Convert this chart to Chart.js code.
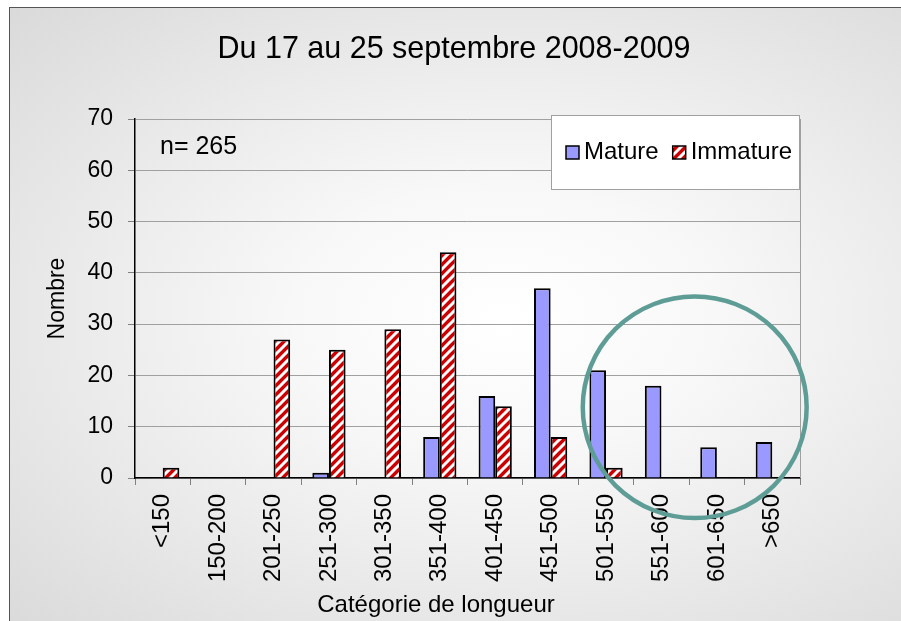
<!DOCTYPE html>
<html lang="fr">
<head>
<meta charset="utf-8">
<script src="https://cdn.jsdelivr.net/npm/chart.js@4.4.0/dist/chart.umd.min.js"></script>
<style>
  html, body { margin: 0; padding: 0; background: #fff; }
  #cadre {
    position: absolute; left: 9px; top: 7px; width: 900px; height: 620px;
    border-left: 1px solid #555; border-top: 1px solid #555;
    background: radial-gradient(ellipse farthest-corner at 55% 50%, #ffffff 0%, #f8f8f8 30%, #dadada 100%);
  }
  #graphique { position: absolute; left: 0; top: 0; }
</style>
</head>
<body>
<div id="cadre"></div>
<canvas id="graphique" width="901" height="621"></canvas>
<script>
// Données
const categories = ["<150", "150-200", "201-250", "251-300", "301-350", "351-400",
                    "401-450", "451-500", "501-550", "551-600", "601-650", ">650"];
const mature   = [0, 0, 0, 1, 0, 8, 16, 37, 21, 18, 6, 7];
const immature = [2, 0, 27, 25, 29, 44, 14, 8, 2, 0, 0, 0];
const graduationsY = [0, 10, 20, 30, 40, 50, 60, 70];
const titre = "Du 17 au 25 septembre 2008-2009";
const effectif = "n= 265";
// cercle autour des grandes tailles (en unités des axes)
const cercleCentre = [9.6, 13.8];
const cercleRayon = [2.02, 21.6];

const police = '"Liberation Sans", Arial, sans-serif';
Chart.defaults.font.family = police;
Chart.defaults.color = '#000';

// motif rouge hachuré blanc
function motifHachure(ctx) {
    let c = document.createElement('canvas');
    c.width = 9; c.height = 9;
    let g = c.getContext('2d');
    g.fillStyle = '#CC0000';
    g.fillRect(0, 0, 9, 9);
    g.strokeStyle = '#ffffff';
    g.lineWidth = 3;
    g.beginPath();
    g.moveTo(-2, 11); g.lineTo(11, -2);
    g.moveTo(-2, 2); g.lineTo(2, -2);
    g.moveTo(7, 11); g.lineTo(11, 7);
    g.stroke();
    return ctx.createPattern(c, 'repeat');
}

const canvas = document.getElementById('graphique');
const hachure = motifHachure(canvas.getContext('2d'));

const habillage = {
    id: 'habillage',
    afterDatasetsDraw(chart) {
        const { ctx, chartArea: a, scales: { x, y } } = chart;
        ctx.save();

        // titre
        ctx.fillStyle = '#000';
        ctx.textAlign = 'center';
        ctx.textBaseline = 'middle';
        ctx.font = '30.5px ' + police;
        ctx.fillText(titre, 454, 50);

        // bord droit de la zone de traçage
        ctx.strokeStyle = '#a0a0a0';
        ctx.lineWidth = 1;
        ctx.beginPath();
        ctx.moveTo(a.right + 0.5, a.top);
        ctx.lineTo(a.right + 0.5, a.bottom);
        ctx.stroke();

        // effectif
        ctx.font = '25px ' + police;
        ctx.textAlign = 'left';
        ctx.fillText(effectif, a.left + 25, a.top + 28);

        // cercle
        const cx = x.getPixelForValue(cercleCentre[0]);
        const cy = y.getPixelForValue(cercleCentre[1]);
        const rx = x.getPixelForValue(cercleCentre[0] + cercleRayon[0]) - cx;
        const ry = cy - y.getPixelForValue(cercleCentre[1] + cercleRayon[1]);
        ctx.strokeStyle = '#5E9C96';
        ctx.lineWidth = 4.5;
        ctx.beginPath();
        ctx.ellipse(cx, cy, rx, ry, 0, 0, 2 * Math.PI);
        ctx.stroke();

        // légende
        const bx = a.right - 249, by = a.top - 4;
        ctx.fillStyle = '#ffffff';
        ctx.fillRect(bx, by, 248, 74);
        ctx.strokeStyle = '#a0a0a0';
        ctx.lineWidth = 1;
        ctx.strokeRect(bx + 0.5, by + 0.5, 248, 74);
        ctx.font = '24px ' + police;
        let px = bx + 15;
        const py = by + 37;
        chart.data.datasets.forEach(ds => {
            ctx.fillStyle = ds.backgroundColor;
            ctx.fillRect(px, py - 6, 13, 13);
            ctx.strokeStyle = '#000';
            ctx.lineWidth = 1.5;
            ctx.strokeRect(px, py - 6, 13, 13);
            ctx.fillStyle = '#000';
            ctx.fillText(ds.label, px + 18, py);
            px += 18 + ctx.measureText(ds.label).width + 14;
        });

        // titre de l'axe des x
        ctx.textAlign = 'center';
        ctx.font = '24px ' + police;
        ctx.fillText('Catégorie de longueur', 436, 605);

        ctx.restore();
    }
};

new Chart(canvas, {
    type: 'bar',
    data: {
        labels: categories,
        datasets: [
            {
                label: 'Mature',
                data: mature,
                backgroundColor: '#9999FF',
                borderColor: '#000',
                borderWidth: 2
            },
            {
                label: 'Immature',
                data: immature,
                backgroundColor: hachure,
                borderColor: '#000',
                borderWidth: 2
            }
        ]
    },
    options: {
        responsive: false,
        animation: false,
        devicePixelRatio: 1,
        categoryPercentage: 0.6,
        barPercentage: 1,
        layout: { padding: { left: 0, right: 101, top: 119, bottom: 0 } },
        plugins: {
            legend: { display: false },
            tooltip: { enabled: false },
            title: { display: false }
        },
        scales: {
            x: {
                afterFit: s => { s.height = 143; },
                grid: {
                    drawOnChartArea: false,
                    drawTicks: true,
                    tickLength: 7,
                    color: '#808080'
                },
                border: { color: '#000', width: 1.5 },
                ticks: {
                    autoSkip: false,
                    minRotation: 90,
                    maxRotation: 90,
                    padding: 9,
                    color: '#000',
                    font: { size: 24 }
                }
            },
            y: {
                min: graduationsY[0],
                max: graduationsY[graduationsY.length - 1],
                afterFit: s => { s.width = 135; },
                afterBuildTicks: s => { s.ticks = graduationsY.map(v => ({ value: v })); },
                grid: {
                    color: '#a0a0a0',
                    lineWidth: 1,
                    tickLength: 7,
                    tickColor: '#808080'
                },
                border: { color: '#000', width: 1.5 },
                ticks: {
                    padding: 15,
                    color: '#000',
                    font: { size: 23 }
                },
                title: {
                    display: true,
                    text: 'Nombre',
                    color: '#000',
                    font: { size: 23 },
                    padding: { top: 44, bottom: 0 }
                }
            }
        }
    },
    plugins: [habillage]
});
</script>
</body>
</html>
